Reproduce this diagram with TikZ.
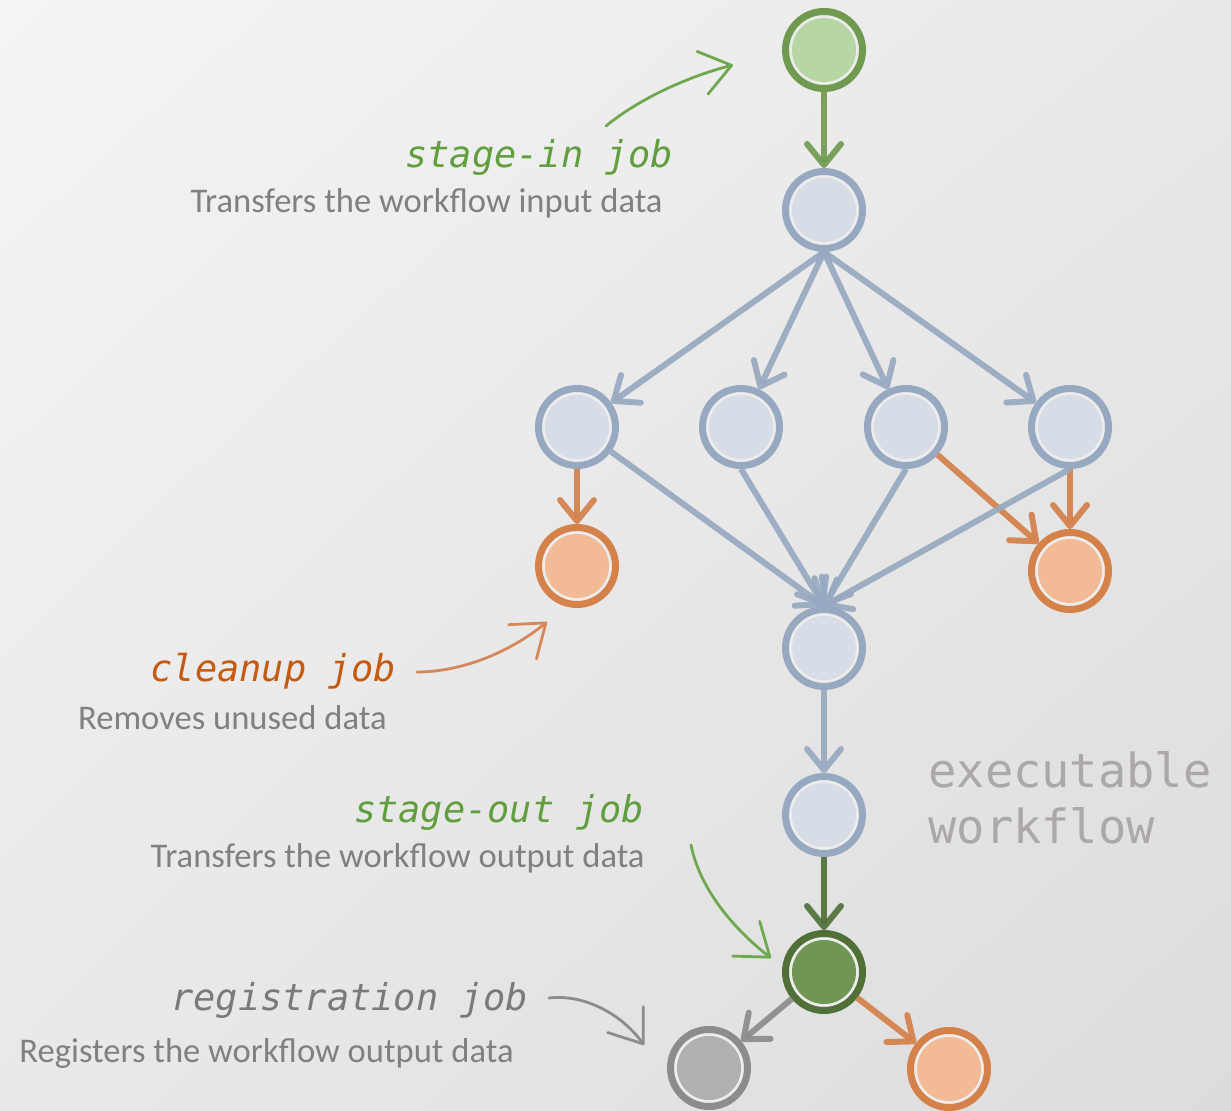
\documentclass[tikz,border=0pt]{standalone}
\usepackage{fontspec}
\setmainfont{Carlito}
\newfontfamily\labfont{DejaVu Sans Mono}
\usetikzlibrary{arrows.meta,shadings}
\definecolor{bgA}{RGB}{244,244,244}
\definecolor{bgB}{RGB}{233,233,233}
\definecolor{bgC}{RGB}{220,220,220}
\definecolor{ring}{RGB}{236,236,236}
\definecolor{gstroke}{RGB}{112,154,80}
\definecolor{gfill}{RGB}{182,215,164}
\definecolor{bstroke}{RGB}{151,169,192}
\definecolor{bfill}{RGB}{214,221,230}
\definecolor{ostroke}{RGB}{212,129,74}
\definecolor{ofill}{RGB}{242,187,149}
\definecolor{dgstroke}{RGB}{80,112,56}
\definecolor{dgfill}{RGB}{112,150,86}
\definecolor{grstroke}{RGB}{140,140,140}
\definecolor{grfill}{RGB}{176,176,176}
\definecolor{gtext}{RGB}{96,158,62}
\definecolor{otext}{RGB}{197,90,17}
\definecolor{graytext}{RGB}{122,122,122}
\definecolor{desc}{RGB}{128,128,128}
\definecolor{exec}{RGB}{172,168,168}
\definecolor{gann}{RGB}{112,168,80}
\definecolor{oann}{RGB}{214,136,90}
\definecolor{grann}{RGB}{140,140,140}
\tikzset{
  job/.style n args={2}{circle, inner sep=0pt, minimum size=38.5pt, line width=3.5pt,
    draw=#1, fill=ring,
    path picture={\fill[#2] (path picture bounding box.center) circle (16pt);}},
  gjob/.style={job={gstroke}{gfill}},
  bjob/.style={job={bstroke}{bfill}},
  ojob/.style={job={ostroke}{ofill}},
  dgjob/.style={job={dgstroke}{dgfill}},
  grjob/.style={job={grstroke}{grfill}},
  conn/.style={line width=3pt, opacity=0.92, -{Straight Barb[length=10.5pt,width=17pt,round]}},
  annot/.style={line width=1.4pt, line cap=round, -{Straight Barb[length=15pt,width=22pt,round]}},
  lab/.style={inner sep=0pt, font=\fontsize{18.5}{22}\selectfont\labfont\itshape},
  dsc/.style={inner sep=0pt, text=desc, font=\fontsize{17.3}{20}\selectfont},
  exe/.style={inner sep=0pt, text=exec, anchor=base west, font=\fontsize{23.5}{28}\selectfont\labfont}
}
\begin{document}
\begin{tikzpicture}[x=0.5pt,y=-0.5pt]
\useasboundingbox (0,0) rectangle (1231,1111);
\shade[upper left=bgA, upper right=bgB, lower left=bgB, lower right=bgC] (0,0) rectangle (1231,1111);

% jobs
\node[gjob] (top) at (824,50) {};
\node[bjob] (sin) at (824,210) {};
\node[bjob] (a) at (577,427) {};
\node[bjob] (b) at (741,427) {};
\node[bjob] (c) at (906,427) {};
\node[bjob] (d) at (1070,427) {};
\node[ojob] (ol) at (577,566) {};
\node[ojob] (or) at (1070,571) {};
\node[bjob] (m) at (824,648) {};
\node[bjob] (n) at (824,815) {};
\node[dgjob] (sout) at (824,972) {};
\node[grjob] (reg) at (709,1068) {};
\node[ojob] (ob) at (949,1069) {};

% connectors
\draw[conn, gstroke] (top) -- (sin);
\draw[conn, bstroke] (sin.south) -- (a);
\draw[conn, bstroke] (sin.south) -- (b);
\draw[conn, bstroke] (sin.south) -- (c);
\draw[conn, bstroke] (sin.south) -- (d);
\draw[conn, ostroke] (a) -- (ol);
\draw[conn, ostroke] (c) -- (or);
\draw[conn, ostroke] (d.south) -- (or);
\draw[conn, bstroke] (a) -- (m.north);
\draw[conn, bstroke] (b.south) -- (m.north);
\draw[conn, bstroke] (c.south) -- (m.north);
\draw[conn, bstroke] (d.south) -- (m.north);
\draw[conn, bstroke] (m) -- (n);
\draw[conn, dgstroke] (n) -- (sout);
\draw[conn, grstroke] (sout) -- (reg);
\draw[conn, ostroke] (sout) -- (ob);

% labels
\node[lab, text=gtext, anchor=base east] (l1) at (673,168) {stage-in job};
\node[dsc, anchor=base east] (d1) at (663,213) {Transfers the workflow input data};
\node[lab, text=otext, anchor=base east] (l2) at (396,682) {cleanup job};
\node[dsc, anchor=base east] (d2) at (387,730) {Removes unused data};
\node[lab, text=gtext, anchor=base east] (l3) at (644,822) {stage-out job};
\node[dsc, anchor=base east] (d3) at (645,867) {Transfers the workflow output data};
\node[lab, text=graytext, anchor=base east] (l4) at (528,1010) {registration job};
\node[dsc, anchor=base east] (d4) at (514,1062) {Registers the workflow output data};
\node[exe] (e1) at (928,787) {executable};
\node[exe] (e2) at (928,843) {workflow};

% annotation arrows
\coordinate (s1) at (606,126); \coordinate (t1) at (733,65);
\draw[annot, gann] (s1) .. controls (640,98) and (690,76) .. (t1);
\coordinate (s2) at (417,672); \coordinate (t2) at (547,622);
\draw[annot, oann] (s2) .. controls (462,672) and (510,652) .. (t2);
\coordinate (s3) at (691,845); \coordinate (t3) at (771,958);
\draw[annot, gann] (s3) .. controls (700,890) and (735,930) .. (t3);
\coordinate (s4) at (549,998); \coordinate (t4) at (644,1045);
\draw[annot, grann] (s4) .. controls (582,994) and (620,1012) .. (t4);
\end{tikzpicture}
\end{document}
